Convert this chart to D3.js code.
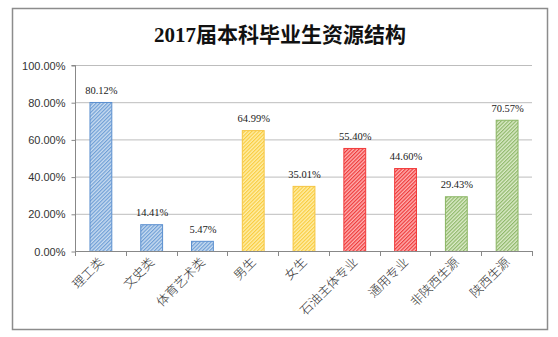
<!DOCTYPE html>
<html><head><meta charset="utf-8">
<script src="https://cdn.jsdelivr.net/npm/d3@7"></script>
<style>body{margin:0;background:#fff}svg{display:block}</style>
</head><body>
<svg id="c" width="558" height="337"></svg>
<script>
const title = "2017届本科毕业生资源结构";
const categories = ["理工类","文史类","体育艺术类","男生","女生","石油主体专业","通用专业","非陕西生源","陕西生源"];
const values = [80.12, 14.41, 5.47, 64.99, 35.01, 55.40, 44.60, 29.43, 70.57];
const groups = ["blue","blue","blue","yellow","yellow","red","red","green","green"];
const yTicks = [0, 20, 40, 60, 80, 100];

const palette = {
  blue:   {bg:"#c9dcf0", line:"#6f9fd6", stroke:"#5b8fcf"},
  yellow: {bg:"#ffeeaa", line:"#f9cc3f", stroke:"#f5c542"},
  red:    {bg:"#ffb0b0", line:"#ee3a3a", stroke:"#f23a3a"},
  green:  {bg:"#dcebc9", line:"#8fb86a", stroke:"#8ab563"}
};

const svg = d3.select("#c");
const defs = svg.append("defs");
Object.entries(palette).forEach(([k,c])=>{
  const p = defs.append("pattern").attr("id","h-"+k).attr("patternUnits","userSpaceOnUse")
    .attr("width",2.6).attr("height",2.6).attr("patternTransform","rotate(45)");
  p.append("rect").attr("width",2.6).attr("height",2.6).attr("fill",c.bg);
  p.append("rect").attr("width",1.2).attr("height",2.6).attr("fill",c.line);
});

// frame
svg.append("rect").attr("x",12.5).attr("y",8.5).attr("width",535).attr("height",321)
  .attr("fill","#fff").attr("stroke","#8c8c8c").attr("stroke-width",1.5);

svg.append("text").attr("x",280).attr("y",42).attr("text-anchor","middle")
  .attr("font-family","'Liberation Serif','Noto Sans CJK SC',serif").attr("font-weight","bold")
  .attr("font-size",21).attr("fill","#111").text(title);

const plotL = 75, plotR = 532, plotT = 65, plotB = 251;
const x = d3.scaleBand().domain(categories).range([plotL,plotR]).paddingInner(0.57).paddingOuter(0.285);
const y = d3.scaleLinear().domain([0,100]).range([plotB,plotT]);

// gridlines
svg.append("g").selectAll("line").data(yTicks.filter(d=>d>0)).join("line")
  .attr("x1",plotL).attr("x2",plotR).attr("y1",d=>y(d)+0.5).attr("y2",d=>y(d)+0.5)
  .attr("stroke","#bdbdbd").attr("stroke-width",1);

// y axis
const yAxis = d3.axisLeft(y).tickValues(yTicks).tickSize(4).tickPadding(6)
  .tickFormat(d=>d3.format(".2f")(d)+"%");
const gy = svg.append("g").attr("transform",`translate(${plotL+0.5},0.5)`).call(yAxis);
gy.select(".domain").attr("stroke","#888").attr("d",`M-4,${plotT}H0V${plotB}`);
gy.selectAll(".tick line").attr("stroke","#888");
gy.selectAll("text").attr("font-family","'Liberation Sans',Arial,sans-serif").attr("font-size",11).attr("fill","#333");

// bars
svg.append("g").selectAll("rect").data(values).join("rect")
  .attr("x",(d,i)=>x(categories[i])+0.5).attr("width",x.bandwidth())
  .attr("y",d=>y(d)+0.5).attr("height",d=>y(0)-y(d))
  .attr("fill",(d,i)=>`url(#h-${groups[i]})`)
  .attr("stroke",(d,i)=>palette[groups[i]].stroke).attr("stroke-width",1);

// x axis
const step = x.step();
const bounds = categories.map(c=>x(c) - (step - x.bandwidth())/2).concat([plotR]);
svg.append("line").attr("x1",plotL).attr("x2",plotR).attr("y1",plotB+0.5).attr("y2",plotB+0.5)
  .attr("stroke","#888");
svg.append("g").selectAll("line").data(bounds).join("line")
  .attr("x1",d=>Math.round(d)+0.5).attr("x2",d=>Math.round(d)+0.5)
  .attr("y1",plotB).attr("y2",plotB+5).attr("stroke","#888");

// value labels
svg.append("g").selectAll("text").data(values).join("text")
  .attr("x",(d,i)=>x(categories[i])+x.bandwidth()/2+1).attr("y",d=>y(d)-8)
  .attr("text-anchor","middle").attr("font-family","'Liberation Serif','Times New Roman',serif")
  .attr("font-size",10.5).attr("fill","#222").text(d=>d3.format(".2f")(d)+"%");

// category labels
svg.append("g").selectAll("text").data(categories).join("text")
  .attr("text-anchor","end")
  .attr("transform",d=>`translate(${x(d)+x.bandwidth()/2+4},${plotB+12}) rotate(-45)`)
  .attr("font-family","'Noto Sans CJK SC',sans-serif").attr("font-weight",300).attr("font-size",12.5).attr("fill","#333")
  .text(d=>d);
</script>
</body></html>
